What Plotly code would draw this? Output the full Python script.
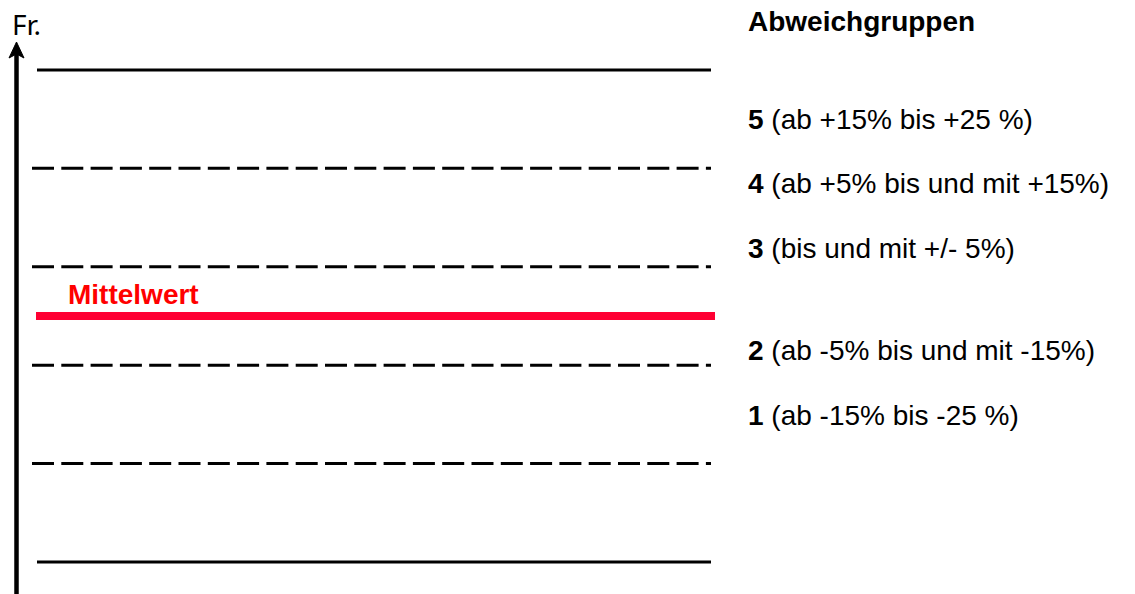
import plotly.graph_objects as go

# ---- data -------------------------------------------------------------
levels = [25, 15, 5, 0, -5, -15, -25]            # deviation from mean in %
level_kind = ["solid", "dash", "dash", "mean", "dash", "dash", "solid"]
group_numbers = ["5", "4", "3", "2", "1"]
group_texts = [
    "(ab +15% bis +25 %)",
    "(ab +5% bis und mit +15%)",
    "(bis und mit +/- 5%)",
    "(ab -5% bis und mit -15%)",
    "(ab -15% bis -25 %)",
]
legend_title = "Abweichgruppen"
axis_label = "Fr."
mean_label = "Mittelwert"

# ---- layout constants (pixel frame) -----------------------------------
W, H = 1135, 594
FONT = "Liberation Sans, Arial, sans-serif"
TXT = 28
styles = {
    "solid": dict(color="#000000", width=3, dash="solid", x0=37, x1=711),
    "dash": dict(color="#000000", width=3, dash="22px,7.3px", x0=32, x1=711),
    "mean": dict(color="#FF0033", width=8, dash="solid", x0=36, x1=715),
}
legend_x = 746
legend_title_y = 22
legend_rows_y = [119, 183, 248, 350, 415]


def py(pix):
    """pixel row -> paper fraction"""
    return 1 - pix / H


fig = go.Figure()
for v, kind in zip(levels, level_kind):
    s = styles[kind]
    fig.add_trace(go.Scatter(
        x=[s["x0"], s["x1"]], y=[v, v], mode="lines",
        line=dict(color=s["color"], width=s["width"], dash=s["dash"]),
        hoverinfo="skip", showlegend=False,
    ))

annotations = [
    dict(x=10, y=py(24), xref="x", yref="paper", text=axis_label, showarrow=False,
         xanchor="left", yanchor="middle",
         font=dict(family="Noto Sans, sans-serif", size=28, color="#000")),
    dict(x=66, y=py(294), xref="x", yref="paper", text=f"<b>{mean_label}</b>", showarrow=False,
         xanchor="left", yanchor="middle",
         font=dict(family=FONT, size=TXT, color="#FF0000")),
    dict(x=legend_x, y=py(legend_title_y), xref="x", yref="paper",
         text=f"<b>{legend_title}</b>", showarrow=False,
         xanchor="left", yanchor="middle", font=dict(family=FONT, size=TXT, color="#000")),
]
for num, txt, yp in zip(group_numbers, group_texts, legend_rows_y):
    annotations.append(dict(
        x=legend_x, y=py(yp), xref="x", yref="paper",
        text=f"<b>{num}</b> {txt}", showarrow=False,
        xanchor="left", yanchor="middle", font=dict(family=FONT, size=TXT, color="#000"),
    ))

shapes = [
    # vertical axis shaft
    dict(type="line", xref="x", yref="paper", x0=16.5, x1=16.5, y0=py(H + 5), y1=py(54),
         line=dict(color="#000", width=4.5)),
    # arrow head
    dict(type="path", xref="x", yref="paper",
         path=f"M 9,{py(58)} L 16.5,{py(42)} L 24,{py(58)} L 16.5,{py(54)} Z",
         fillcolor="#000", line=dict(color="#000", width=1)),
]

fig.update_layout(
    width=W, height=H,
    margin=dict(l=0, r=0, t=0, b=0),
    paper_bgcolor="white", plot_bgcolor="white",
    xaxis=dict(visible=False, range=[0, W], fixedrange=True),
    yaxis=dict(visible=False, range=[-28.25, 32.1], fixedrange=True),
    showlegend=False,
    annotations=annotations,
    shapes=shapes,
)

fig.write_html(
    "out.html",
    config={"displayModeBar": False, "staticPlot": True},
    post_script="document.body.style.margin='0';document.body.style.padding='0';"
                "document.body.style.overflow='hidden';",
)
